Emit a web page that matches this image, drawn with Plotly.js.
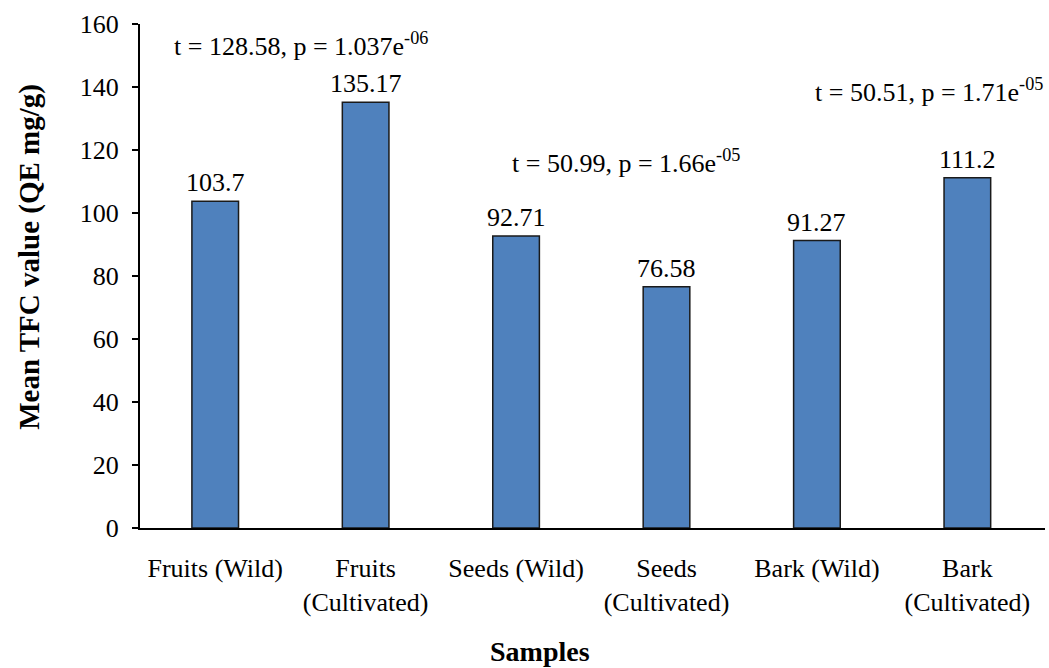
<!DOCTYPE html>
<html>
<head>
<meta charset="utf-8">
<script src="https://cdn.plot.ly/plotly-3.0.1.min.js"></script>
<style>html,body{margin:0;padding:0;background:#fff;}#chart{width:1049px;height:668px;}</style>
</head>
<body>
<div id="chart"></div>
<script>
const categories = ["Fruits (Wild)", "Fruits (Cultivated)", "Seeds (Wild)", "Seeds (Cultivated)", "Bark (Wild)", "Bark (Cultivated)"];
const tickLabels = ["Fruits (Wild)", "Fruits<br>(Cultivated)", "Seeds (Wild)", "Seeds<br>(Cultivated)", "Bark (Wild)", "Bark<br>(Cultivated)"];
const meanTFC = [103.7, 135.17, 92.71, 76.58, 91.27, 111.2];
const valueLabels = ["103.7", "135.17", "92.71", "76.58", "91.27", "111.2"];
const testLabels = [
  "t = 128.58, p = 1.037e<sup>-06</sup>",
  "t = 50.99, p = 1.66e<sup>-05</sup>",
  "t = 50.51, p = 1.71e<sup>-05</sup>"
];
const yTicks = [0, 20, 40, 60, 80, 100, 120, 140, 160];
const xTitle = "Samples";
const yTitle = "Mean TFC value (QE mg/g)";

const FONT = "'Times New Roman', 'Liberation Serif', serif";
const FS = 26;

const trace = {
  type: "bar",
  x: categories,
  y: meanTFC,
  marker: {color: "#4F81BD", line: {color: "#1a1a1a", width: 1.5}},
  hoverinfo: "x+y"
};

const annPos = [
  {x: 0.57, y: 153.5},
  {x: 2.73, y: 116.5},
  {x: 4.745, y: 139}
];

const valueAnns = categories.map((c, i) => ({
  text: valueLabels[i], x: c, y: meanTFC[i], xref: "x", yref: "y",
  showarrow: false, xanchor: "center", yanchor: "bottom", yshift: 2,
  font: {family: FONT, size: FS, color: "#000"}
}));

const testAnns = testLabels.map((t, i) => ({
  text: t, x: annPos[i].x, y: annPos[i].y, xref: "x", yref: "y",
  showarrow: false, xanchor: "center", yanchor: "middle",
  font: {family: FONT, size: FS, color: "#000"}
}));

const titleAnns = [
  {text: "<b>" + xTitle + "</b>", xref: "paper", yref: "paper", x: 0.442, y: 0,
   yshift: -123, xanchor: "center", yanchor: "middle", showarrow: false,
   font: {family: FONT, size: 28, color: "#000"}},
  {text: "<b>" + yTitle + "</b>", xref: "paper", yref: "paper", x: 0, y: 0.538,
   xshift: -110, xanchor: "center", yanchor: "middle", textangle: -90, showarrow: false,
   font: {family: FONT, size: 29, color: "#000"}}
];

const layout = {
  width: 1049, height: 668,
  margin: {l: 140, r: 4, t: 24, b: 140},
  paper_bgcolor: "#fff", plot_bgcolor: "#fff",
  bargap: 0.69,
  showlegend: false,
  font: {family: FONT, size: FS, color: "#000"},
  xaxis: {
    type: "category",
    tickvals: categories,
    ticktext: tickLabels,
    tickfont: {family: FONT, size: FS, color: "#000"},
    showline: true, linecolor: "#000", linewidth: 2,
    ticks: "", showgrid: false, zeroline: false,
    ticklabelstandoff: 16
  },
  yaxis: {
    range: [0, 160],
    tickvals: yTicks,
    tickfont: {family: FONT, size: FS, color: "#000"},
    showline: true, linecolor: "#000", linewidth: 2,
    ticks: "outside", ticklen: 6, tickwidth: 2, tickcolor: "#000",
    showgrid: false, zeroline: false,
    ticklabelstandoff: 8
  },
  annotations: valueAnns.concat(testAnns, titleAnns)
};

Plotly.newPlot("chart", [trace], layout, {displayModeBar: false, staticPlot: true});
</script>
</body>
</html>
